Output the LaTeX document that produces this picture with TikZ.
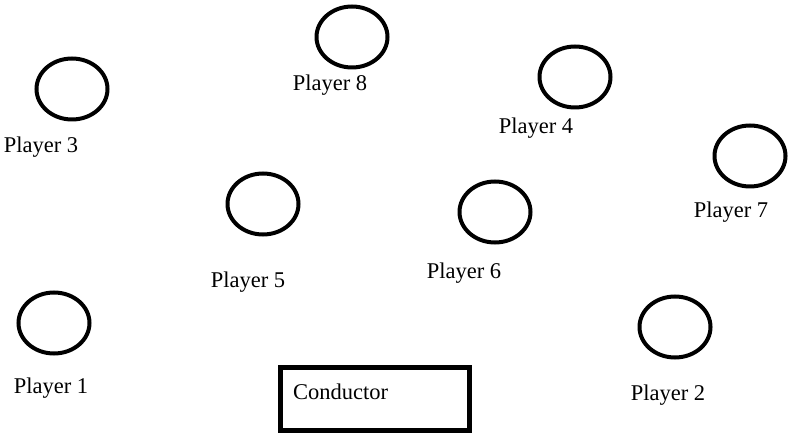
\documentclass[tikz,border=0pt]{standalone}
\usepackage{fontspec}
\setmainfont{Liberation Serif}
\usepackage{tikz}
\usetikzlibrary{shapes.geometric, positioning}

\begin{document}
\begin{tikzpicture}[
  x=1pt, y=-1pt,
  player/.style={ellipse, draw=black, line width=4pt, inner sep=0pt,
                 minimum width=71pt, minimum height=61pt},
  tag/.style={font=\fontsize{22.5}{26}\selectfont, inner sep=0pt},
  conductorbox/.style={rectangle, draw=black, line width=5pt, inner sep=0pt,
                 minimum width=189pt, minimum height=63pt, text width=164pt,
                 align=left, text depth=14pt, font=\fontsize{22.5}{26}\selectfont}
]
\useasboundingbox (0,0) rectangle (789,435);

% players
\node[player] (p1) at (54,323)  {};
\node[player] (p2) at (675,327) {};
\node[player] (p3) at (72,89)   {};
\node[player] (p4) at (575,77)  {};
\node[player] (p5) at (263,204) {};
\node[player] (p6) at (495,212) {};
\node[player] (p7) at (750,156) {};
\node[player] (p8) at (352,37)  {};

% names
\node[tag] (n1) at (51,388)  {Player 1};
\node[tag] (n2) at (668,395) {Player 2};
\node[tag] (n3) at (41,147)  {Player 3};
\node[tag] (n4) at (536,128) {Player 4};
\node[tag] (n5) at (248,282) {Player 5};
\node[tag] (n6) at (464,273) {Player 6};
\node[tag] (n7) at (731,212) {Player 7};
\node[tag] (n8) at (330,85)  {Player 8};

% conductor
\node[conductorbox] (conductor) at (375,399) {Conductor};
\end{tikzpicture}
\end{document}
